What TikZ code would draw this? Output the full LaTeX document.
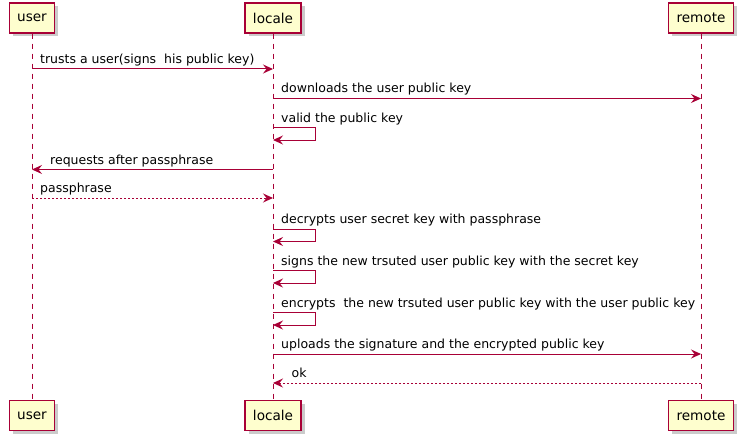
\documentclass[tikz,border=0pt]{standalone}
\usepackage{fontspec}
\setmainfont{DejaVu Sans}
\usetikzlibrary{arrows.meta,shadows}
\definecolor{pline}{HTML}{A80036}
\definecolor{pfill}{HTML}{FEFECE}
\tikzset{
  part/.style={draw=pline, fill=pfill, line width=1.2pt, minimum height=30pt, inner sep=0pt,
    font=\fontsize{13.6}{16}\selectfont,
    drop shadow={shadow xshift=3.5pt, shadow yshift=-3.5pt, fill=black!45, opacity=0.45}},
  life/.style={draw=pline, line width=0.9pt, dash pattern=on 5pt off 5pt},
  msg/.style={draw=pline, line width=1pt, -{Stealth[length=10pt,width=9pt,inset=3.5pt]}},
  reply/.style={msg, dash pattern=on 2pt off 2pt},
  lbl/.style={anchor=base west, inner sep=0pt, font=\fontsize{12.5}{15}\selectfont}
}
\begin{document}
\begin{tikzpicture}[x=1pt,y=-1pt]
\useasboundingbox (0,0) rectangle (743,441);
% level coordinates
\coordinate (m1) at (0,69);
\coordinate (m2) at (0,98.5);
\coordinate (s1) at (0,127.5);
\coordinate (m4) at (0,169.5);
\coordinate (m5) at (0,198);
\coordinate (s2) at (0,229);
\coordinate (s3) at (0,270.5);
\coordinate (s4) at (0,312.5);
\coordinate (m9) at (0,354);
\coordinate (m10) at (0,383);
% participants (top)
\node[part, minimum width=45pt] (utop) at (32,18) {user};
\node[part, minimum width=56pt] (ltop) at (273,18) {locale};
\node[part, minimum width=65pt] (rtop) at (701,18) {remote};
% participants (bottom)
\node[part, minimum width=45pt] (ubot) at (32,415.5) {user};
\node[part, minimum width=56pt] (lbot) at (273,415.5) {locale};
\node[part, minimum width=65pt] (rbot) at (701,415.5) {remote};
% lifelines
\draw[life] (utop.south) -- (ubot.north);
\draw[life] (ltop.south) -- (lbot.north);
\draw[life] (rtop.south) -- (rbot.north);
% messages
\draw[msg] (utop |- m1) -- (ltop |- m1);
\path (utop |- m1) ++(8,-5.5) node[lbl] {trusts a user(signs\ \ his public key)};
\draw[msg] (ltop |- m2) -- (rtop |- m2);
\path (ltop |- m2) ++(8,-5.5) node[lbl] {downloads the user public key};
\draw[msg] (ltop |- s1) -- ++(42.5,0) -- ++(0,12.5) -- ++(-42.5,0);
\path (ltop |- s1) ++(8,-5) node[lbl] {valid the public key};
\draw[msg] (ltop |- m4) -- (utop |- m4);
\path (utop |- m4) ++(18,-5.5) node[lbl] {requests after passphrase};
\draw[reply] (utop |- m5) -- (ltop |- m5);
\path (utop |- m5) ++(8,-5.5) node[lbl] {passphrase};
\draw[msg] (ltop |- s2) -- ++(42.5,0) -- ++(0,12.5) -- ++(-42.5,0);
\path (ltop |- s2) ++(8,-5.5) node[lbl] {decrypts user secret key with passphrase};
\draw[msg] (ltop |- s3) -- ++(42.5,0) -- ++(0,12.5) -- ++(-42.5,0);
\path (ltop |- s3) ++(8,-5.5) node[lbl] {signs the new trsuted user public key with the secret key};
\draw[msg] (ltop |- s4) -- ++(42.5,0) -- ++(0,12.5) -- ++(-42.5,0);
\path (ltop |- s4) ++(8,-5.5) node[lbl] {encrypts\ \ the new trsuted user public key with the user public key};
\draw[msg] (ltop |- m9) -- (rtop |- m9);
\path (ltop |- m9) ++(8,-5.5) node[lbl] {uploads the signature and the encrypted public key};
\draw[reply] (rtop |- m10) -- (ltop |- m10);
\path (ltop |- m10) ++(18.5,-5.5) node[lbl] {ok};
\end{tikzpicture}
\end{document}
